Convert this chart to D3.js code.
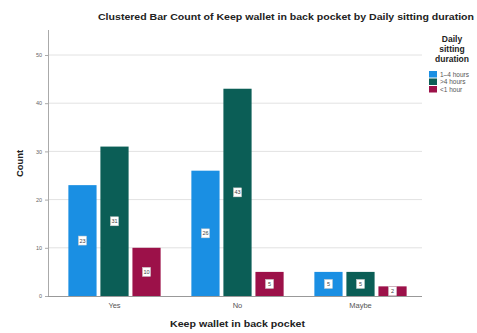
<!DOCTYPE html>
<html><head><meta charset="utf-8">
<script src="https://cdn.jsdelivr.net/npm/d3@7"></script>
<style>body{margin:0;background:#fff}svg{display:block}text{font-family:Arial,"Liberation Sans",sans-serif}</style>
</head><body><svg id="c" width="477" height="333"></svg>
<script>
const categories = ["Yes", "No", "Maybe"];
const seriesNames = ["1–4 hours", ">4 hours", "<1 hour"];
const series1to4 = [23, 26, 5];
const seriesOver4 = [31, 43, 5];
const seriesUnder1 = [10, 5, 2];
const yTicks = [0, 10, 20, 30, 40, 50];
const colors = ["#1a8fe3", "#0b5e56", "#9c1149"];
const allSeries = [series1to4, seriesOver4, seriesUnder1];

const svg = d3.select("#c");
const plotTop = 30, plotBottom = 296, plotLeft = 48, plotRight = 422;
const y = d3.scaleLinear().domain([0, 55]).range([plotBottom, plotBottom - 55 * 4.82]);
const x0 = d3.scaleBand().domain(categories).range([53, 422]).paddingInner(0.25).paddingOuter(0.125);
const x1 = d3.scaleBand().domain(d3.range(3)).range([0, x0.bandwidth()]).paddingInner(0.12);

// title
svg.append("text").attr("x", 98).attr("y", 20)
  .attr("font-size", 9.2).attr("font-weight", "bold").attr("fill", "#222")
  .attr("textLength", 376).attr("lengthAdjust", "spacingAndGlyphs")
  .text("Clustered Bar Count of Keep wallet in back pocket by Daily sitting duration");

// gridlines
svg.append("g").selectAll("line").data(yTicks.slice(1)).join("line")
  .attr("x1", plotLeft).attr("x2", plotRight)
  .attr("y1", d => y(d)).attr("y2", d => y(d))
  .attr("stroke", "#e2e2e2").attr("stroke-width", 1);

// y axis
const yAxis = d3.axisLeft(y).tickValues(yTicks).tickSize(3).tickPadding(3);
const gy = svg.append("g").attr("transform", `translate(${plotLeft},0)`).call(yAxis);
gy.select(".domain").remove();
gy.selectAll("line").attr("stroke", "#aaa");
gy.selectAll("text").attr("font-size", 5.5).attr("fill", "#666").style("font-family", "Arial");
svg.append("line").attr("x1", plotLeft + 0.5).attr("x2", plotLeft + 0.5).attr("y1", plotTop).attr("y2", plotBottom)
  .attr("stroke", "#aaa");
svg.append("line").attr("x1", plotLeft).attr("x2", plotRight).attr("y1", plotBottom + 0.5).attr("y2", plotBottom + 0.5)
  .attr("stroke", "#999");

// bars
const groups = svg.append("g").selectAll("g").data(categories).join("g")
  .attr("transform", d => `translate(${x0(d)},0)`);
groups.each(function(cat, ci) {
  const g = d3.select(this);
  allSeries.forEach((s, si) => {
    const v = s[ci];
    const bx = x1(si), bw = x1.bandwidth();
    g.append("rect").attr("x", bx).attr("y", y(v)).attr("width", bw).attr("height", y(0) - y(v))
      .attr("fill", colors[si]);
    const cy = y(v / 2);
    g.append("rect").attr("x", bx + bw / 2 - 4).attr("y", cy - 4.5).attr("width", 8).attr("height", 9)
      .attr("fill", "#fff").attr("stroke", "#ccc").attr("stroke-width", 0.5);
    g.append("text").attr("x", bx + bw / 2).attr("y", cy + 2).attr("text-anchor", "middle")
      .attr("font-size", 5.5).attr("fill", "#444").text(v);
  });
});

// x axis labels
const xAxis = d3.axisBottom(x0).tickSize(0).tickPadding(7);
const gx = svg.append("g").attr("transform", `translate(0,${plotBottom})`).call(xAxis);
gx.select(".domain").remove();
gx.selectAll("text").attr("font-size", 7.5).attr("fill", "#555").style("font-family", "Arial");

// axis titles
svg.append("text").attr("x", 170).attr("y", 327)
  .attr("font-size", 8.5).attr("font-weight", "bold").attr("fill", "#222")
  .attr("textLength", 135).attr("lengthAdjust", "spacingAndGlyphs").text("Keep wallet in back pocket");
svg.append("text").attr("transform", "translate(23,177) rotate(-90)")
  .attr("font-size", 8.5).attr("font-weight", "bold").attr("fill", "#222")
  .attr("textLength", 27).attr("lengthAdjust", "spacingAndGlyphs").text("Count");

// legend
const lt = svg.append("g");
["Daily", "sitting", "duration"].forEach((t, i) => {
  lt.append("text").attr("x", 452).attr("y", 42 + i * 10).attr("text-anchor", "middle")
    .attr("font-size", 8.5).attr("font-weight", "bold").attr("fill", "#222").text(t);
});
seriesNames.forEach((n, i) => {
  lt.append("rect").attr("x", 429).attr("y", 71 + i * 7.5).attr("width", 8).attr("height", 6.5).attr("fill", colors[i]);
  lt.append("text").attr("x", 440).attr("y", 76.5 + i * 7.5).attr("font-size", 6.5).attr("fill", "#555").text(n);
});
</script></body></html>
